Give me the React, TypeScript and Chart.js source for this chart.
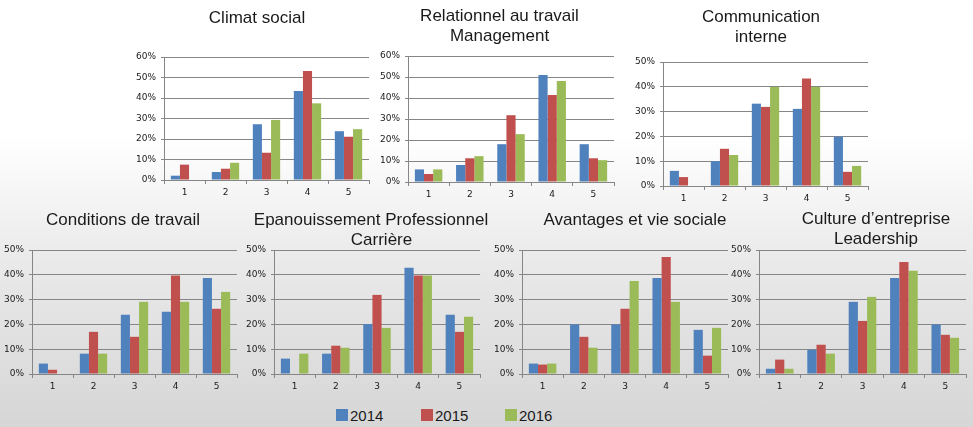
import React, { useEffect, useRef } from "react";
import { Chart, registerables } from "chart.js";
Chart.register(...registerables);

// ---------- DATA ----------
const categories = ["1", "2", "3", "4", "5"];
const years = ["2014", "2015", "2016"];

const climat2014 = [2.1, 3.9, 27.2, 43.4, 23.8];
const climat2015 = [7.5, 5.5, 13.3, 53.2, 21.1];
const climat2016 = [0, 8.4, 29.3, 37.4, 24.8];

const relation2014 = [6.0, 8.1, 18.0, 51.0, 18.0];
const relation2015 = [3.8, 11.3, 31.8, 41.4, 11.3];
const relation2016 = [6.0, 12.3, 22.8, 48.1, 10.4];

const comm2014 = [6.1, 10.0, 33.2, 31.1, 19.9];
const comm2015 = [3.6, 15.0, 31.9, 43.3, 5.7];
const comm2016 = [0, 12.5, 39.9, 39.9, 8.1];

const cond2014 = [4.2, 8.2, 23.9, 25.1, 38.7];
const cond2015 = [1.7, 17.0, 15.0, 39.7, 26.3];
const cond2016 = [0, 8.2, 29.1, 29.1, 33.1];

const epan2014 = [6.2, 8.2, 20.1, 42.8, 23.9];
const epan2015 = [0, 11.4, 31.9, 39.7, 17.0];
const epan2016 = [8.2, 10.6, 18.6, 39.7, 23.1];

const avant2014 = [4.2, 20.0, 20.0, 38.7, 17.8];
const avant2015 = [3.8, 15.0, 26.3, 47.2, 7.4];
const avant2016 = [4.2, 10.6, 37.5, 29.1, 18.6];

const culture2014 = [2.1, 9.8, 29.1, 38.7, 20.0];
const culture2015 = [5.8, 11.8, 21.4, 45.2, 15.8];
const culture2016 = [2.1, 8.2, 31.1, 41.6, 14.6];

const titleClimat = ["Climat social"];
const titleRelation = ["Relationnel au travail", "Management"];
const titleComm = ["Communication", "interne"];
const titleCond = ["Conditions de travail"];
const titleEpan = ["Epanouissement Professionnel", "Carrière"];
const titleAvant = ["Avantages et vie sociale"];
const titleCulture = ["Culture d\u2019entreprise", "Leadership"];

const yMaxTop = [60, 60, 50];
const yMaxBottom = [50, 50, 50, 50];

// ---------- STYLE / LAYOUT ----------
const COLORS = ["#4F81BD", "#C0504D", "#9BBB59"];
const GRID = "#868686";
const TEXT = "#1a1a1a";

type Panel = {
  title: string[];
  series: number[][];
  yMax: number;
  left: number;
  top: number;
  width: number;
  height: number;
  padTop: number;
  padRight: number;
  tx: number[];
  ty: number[];
};

const panels: Panel[] = [
  { title: titleClimat, series: [climat2014, climat2015, climat2016], yMax: yMaxTop[0],
    left: 134, top: 0, width: 245, height: 200, padTop: 57, padRight: 10, tx: [123], ty: [18.3] },
  { title: titleRelation, series: [relation2014, relation2015, relation2016], yMax: yMaxTop[1],
    left: 378, top: 0, width: 246, height: 202, padTop: 56, padRight: 10, tx: [121.5, 121.5], ty: [16.7, 36.7] },
  { title: titleComm, series: [comm2014, comm2015, comm2016], yMax: yMaxTop[2],
    left: 633, top: 0, width: 245, height: 206, padTop: 62, padRight: 10, tx: [128, 128], ty: [17, 37] },
  { title: titleCond, series: [cond2014, cond2015, cond2016], yMax: yMaxBottom[0],
    left: 2, top: 200, width: 245, height: 194, padTop: 50, padRight: 10, tx: [121], ty: [20] },
  { title: titleEpan, series: [epan2014, epan2015, epan2016], yMax: yMaxBottom[1],
    left: 244, top: 200, width: 246, height: 194, padTop: 50, padRight: 10, tx: [127, 137.5], ty: [20, 40] },
  { title: titleAvant, series: [avant2014, avant2015, avant2016], yMax: yMaxBottom[2],
    left: 492, top: 200, width: 246, height: 194, padTop: 50, padRight: 10, tx: [143], ty: [20] },
  { title: titleCulture, series: [culture2014, culture2015, culture2016], yMax: yMaxBottom[3],
    left: 729, top: 200, width: 244, height: 194, padTop: 50, padRight: 7, tx: [147, 147], ty: [19.5, 39.5] },
];

const titlePlugin = {
  id: "panelTitle",
  afterDraw(chart: any, _args: any, opts: any) {
    const ctx = chart.ctx;
    ctx.save();
    ctx.font = "17px 'Liberation Sans', Arial, sans-serif";
    ctx.fillStyle = TEXT;
    ctx.textAlign = "center";
    ctx.textBaseline = "middle";
    (opts.lines || []).forEach((l: string, i: number) => {
      ctx.fillText(l, opts.xs[i], opts.ys[i]);
    });
    ctx.restore();
  },
};

function PanelChart({ p }: { p: Panel }) {
  const ref = useRef<HTMLCanvasElement | null>(null);
  useEffect(() => {
    if (!ref.current) return;
    const tickFont = { family: "'DejaVu Sans', Verdana, sans-serif", size: 9 };
    const chart = new Chart(ref.current, {
      type: "bar",
      data: {
        labels: categories,
        datasets: p.series.map((s, i) => ({
          label: years[i],
          data: s,
          backgroundColor: COLORS[i],
          borderWidth: 0,
          categoryPercentage: 0.667,
          barPercentage: 1.0,
        })),
      },
      options: {
        animation: false,
        responsive: false,
        devicePixelRatio: 1,
        layout: { padding: { top: p.padTop, right: p.padRight, left: 0, bottom: 0 } },
        plugins: {
          legend: { display: false },
          tooltip: { enabled: false },
          title: { display: false },
          panelTitle: { lines: p.title, xs: p.tx, ys: p.ty },
        } as any,
        scales: {
          x: {
            grid: { display: true, drawOnChartArea: false, drawTicks: true, tickLength: 4, color: GRID, offset: true },
            border: { display: true, color: GRID, width: 1 },
            ticks: { font: tickFont, color: TEXT, padding: 3, maxRotation: 0 },
            afterFit: (s: any) => { s.height = 20; },
          },
          y: {
            min: 0,
            max: p.yMax,
            grid: { color: GRID, lineWidth: 1, drawTicks: true, tickLength: 3 },
            border: { display: true, color: GRID, width: 1 },
            ticks: { stepSize: 10, font: tickFont, color: TEXT, padding: 5, callback: (v: any) => v + "%" },
            afterFit: (s: any) => { s.width = 30; },
          },
        },
      },
      plugins: [titlePlugin],
    });
    return () => chart.destroy();
  }, [p]);
  return (
    <canvas
      ref={ref}
      width={p.width}
      height={p.height}
      style={{ position: "absolute", left: p.left, top: p.top, width: p.width, height: p.height }}
    />
  );
}

const legendPos = [336, 421, 505];

export default function App() {
  return (
    <div
      style={{
        position: "fixed",
        left: 0,
        top: 0,
        width: 973,
        height: 427,
        overflow: "hidden",
        background: "linear-gradient(to bottom, #ffffff 0%, #ffffff 32%, #e9e9e9 62%, #d6d6d6 100%)",
      }}
    >
      {panels.map((p, i) => (
        <PanelChart key={i} p={p} />
      ))}
      {years.map((y, i) => (
        <div key={y} style={{ position: "absolute", left: legendPos[i], top: 407, height: 16, display: "flex", alignItems: "center" }}>
          <div style={{ width: 12, height: 12, background: COLORS[i] }} />
          <span style={{ marginLeft: 2, font: "15px 'Liberation Sans', Arial, sans-serif", color: TEXT }}>{y}</span>
        </div>
      ))}
    </div>
  );
}
